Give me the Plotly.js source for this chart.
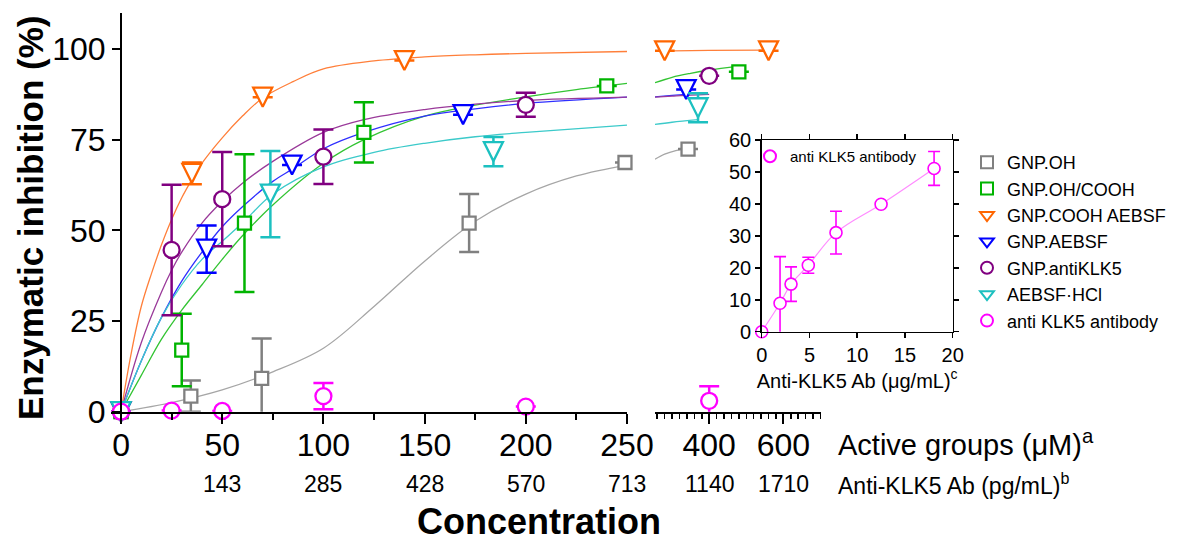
<!DOCTYPE html>
<html><head><meta charset="utf-8">
<script src="https://cdn.plot.ly/plotly-3.0.1.min.js"></script>
<style>html,body{margin:0;padding:0;background:#fff}#chart{width:1189px;height:542px}</style>
</head><body><div id="chart"></div>
<script>
// ---------- data ----------
const seriesNames = ['GNP.OH','GNP.OH/COOH','GNP.COOH AEBSF','GNP.AEBSF','GNP.antiKLK5','AEBSF·HCl','anti KLK5 antibody'];

const ohX   = [0, 34.5, 69.5, 172, 249, 343];
const ohY   = [0, 4.3, 9.2, 52, 68.7, 72.4];
const ohErr = [null, 4.3, 11, 8, null, null];

const coohX   = [0, 30, 61, 120, 240, 480];
const coohY   = [0, 17, 52, 77, 89.8, 93.7];
const coohErr = [null, 10, 19, 8.3, null, null];

const aebsfCoohX   = [0, 35, 70, 140, 280, 560];
const aebsfCoohY   = [0, 65.7, 86.7, 96.8, 99.5, 99.5];
const aebsfCoohErr = [null, 3, null, null, null, null];

const aebsfX   = [0, 42.3, 84.5, 169, 338];
const aebsfY   = [0, 44.8, 68, 81.9, 88.8];
const aebsfErr = [null, 6.5, null, null, null];

const antiX   = [0, 25, 50, 100, 200, 400];
const antiY   = [0, 44.6, 58.6, 70.3, 84.6, 92.6];
const antiErr = [null, 18, 13, 7.5, 3.3, null];

const hclX   = [0, 73.8, 184, 370];
const hclY   = [0, 60, 71.7, 83.8];
const hclErr = [null, 11.9, 4, 4];

const abX   = [0, 25, 50, 100, 200, 400];
const abY   = [0, 0.3, 0.2, 4.3, 1.4, 3];
const abErr = [null, null, null, 3.6, null, 4];

// fitted curves
const ohCurveX1 = [0, 25, 50, 75, 100, 125, 150, 175, 200, 225, 250];
const ohCurveY1 = [0, 2.5, 6, 11, 17.5, 29, 41.5, 52.5, 60, 65, 68];
const ohCurveX2 = [254, 280, 310, 343];
const ohCurveY2 = [69.6, 71, 72, 72.6];

const coohCurveX1 = [0, 10, 20, 30, 40, 50, 60, 75, 100, 120, 150, 175, 200, 225, 250];
const coohCurveY1 = [0, 10, 20, 28, 35, 42, 48.5, 57, 68.5, 75, 81.5, 84.5, 86.8, 88.8, 90.5];
const coohCurveX2 = [254, 300, 350, 400, 480];
const coohCurveY2 = [90.7, 92.2, 93.3, 94.2, 95.3];

const aebsfCoohCurveX1 = [0, 5, 10, 15, 20, 25, 30, 35, 40, 50, 60, 70, 85, 100, 125, 150, 175, 200, 250];
const aebsfCoohCurveY1 = [0, 16, 29, 38, 46, 53, 59, 64, 68.5, 75.5, 81.5, 86.5, 91, 94.5, 96.7, 97.8, 98.4, 98.8, 99.3];
const aebsfCoohCurveX2 = [254, 400, 560];
const aebsfCoohCurveY2 = [99.4, 99.6, 99.7];

const aebsfCurveX1 = [0, 10, 20, 30, 40, 50, 60, 75, 85, 100, 120, 150, 175, 200, 250];
const aebsfCurveY1 = [0, 14, 26, 36, 44, 51, 56.5, 63.5, 67, 72.5, 77, 81.5, 83.5, 85, 86.7];
const aebsfCurveX2 = [254, 300, 338];
const aebsfCurveY2 = [86.8, 87.2, 87.5];

const antiCurveX1 = [0, 10, 20, 25, 30, 40, 50, 60, 75, 100, 120, 150, 175, 200, 250];
const antiCurveY1 = [0, 19, 33, 39, 44, 52, 58, 63, 69, 77, 80.5, 83.3, 84.8, 85.8, 86.7];
const antiCurveX2 = [254, 300, 350, 400];
const antiCurveY2 = [86.7, 87, 87.3, 87.5];

const hclCurveX1 = [0, 10, 20, 30, 40, 50, 60, 75, 100, 125, 150, 175, 200, 250];
const hclCurveY1 = [0, 14, 26, 35, 42, 47, 52, 60, 67.5, 71.5, 74, 75.8, 77, 79];
const hclCurveX2 = [254, 300, 370];
const hclCurveY2 = [79.2, 79.8, 80.5];

// inset
const insetX   = [0, 1.92, 3.07, 4.88, 7.78, 12.5, 18.05];
const insetY   = [0, 8.9, 14.9, 20.8, 31, 39.9, 51.1];
const insetErr = [null, 14.6, 5.4, 2.5, 6.7, null, 5.3];

// tick labels
const xTicks1 = [0, 50, 100, 150, 200, 250];
const xMinor1 = [25, 75, 125, 175, 225];
const xTicks2 = [400, 600];
const abTickX1 = [50, 100, 150, 200, 250];
const abTickText1 = ['143', '285', '428', '570', '713'];
const abTickX2 = [400, 600];
const abTickText2 = ['1140', '1710'];
const yTicks = [0, 25, 50, 75, 100];

// ---------- styling ----------
const FONT = 'Arial, "Liberation Sans", sans-serif';
const W = 1189, H = 542;
const TRI = 19; // triangle marker size
const series = [
  {name: seriesNames[0], x: ohX, y: ohY, e: ohErr, sym: 'square', legSym: 'square', size: 13, col: '#808080', curveCol: '#a6a6a6',
   c1x: ohCurveX1, c1y: ohCurveY1, c2x: ohCurveX2, c2y: ohCurveY2},
  {name: seriesNames[1], x: coohX, y: coohY, e: coohErr, sym: 'square', legSym: 'square', size: 13, col: '#00b400', curveCol: '#33c433',
   c1x: coohCurveX1, c1y: coohCurveY1, c2x: coohCurveX2, c2y: coohCurveY2},
  {name: seriesNames[2], x: aebsfCoohX, y: aebsfCoohY, e: aebsfCoohErr, sym: 'arrow-down', legSym: 'triangle-down', size: TRI, col: '#ff6600', curveCol: '#ff7f3a',
   c1x: aebsfCoohCurveX1, c1y: aebsfCoohCurveY1, c2x: aebsfCoohCurveX2, c2y: aebsfCoohCurveY2},
  {name: seriesNames[3], x: aebsfX, y: aebsfY, e: aebsfErr, sym: 'arrow-down', legSym: 'triangle-down', size: TRI, col: '#0000ff', curveCol: '#3030ff',
   c1x: aebsfCurveX1, c1y: aebsfCurveY1, c2x: aebsfCurveX2, c2y: aebsfCurveY2},
  {name: seriesNames[4], x: antiX, y: antiY, e: antiErr, sym: 'circle', legSym: 'circle', size: 16, col: '#800080', curveCol: '#9a3a9a',
   c1x: antiCurveX1, c1y: antiCurveY1, c2x: antiCurveX2, c2y: antiCurveY2},
  {name: seriesNames[5], x: hclX, y: hclY, e: hclErr, sym: 'arrow-down', legSym: 'triangle-down', size: TRI, col: '#1cc0c0', curveCol: '#3ccaca',
   c1x: hclCurveX1, c1y: hclCurveY1, c2x: hclCurveX2, c2y: hclCurveY2},
  {name: seriesNames[6], x: abX, y: abY, e: abErr, sym: 'circle', legSym: 'circle', size: 16, col: '#ff00ff', curveCol: null}
];

const traces = [];
// curves first (underneath)
series.forEach(s => {
  if (!s.c1x) return;
  traces.push({x: s.c1x, y: s.c1y, xaxis: 'x', yaxis: 'y', mode: 'lines', showlegend: false, hoverinfo: 'skip',
    line: {color: s.curveCol, width: 1.3, shape: 'spline'}});
  traces.push({x: s.c2x, y: s.c2y, xaxis: 'x2', yaxis: 'y', mode: 'lines', showlegend: false, hoverinfo: 'skip',
    line: {color: s.curveCol, width: 1.3, shape: 'spline'}});
});
// markers, split between the two axis segments
series.forEach(s => {
  [[v => v <= 250, 'x'], [v => v > 250, 'x2']].forEach(([test, ax]) => {
    const xs = [], ys = [], es = [];
    s.x.forEach((v, i) => { if (test(v)) { xs.push(v); ys.push(s.y[i]); es.push(s.e[i]); } });
    const mk = {symbol: s.sym, size: s.size, color: '#ffffff', line: {color: s.col, width: 2.3}};
    if (s.sym === 'arrow-down') mk.standoff = s.size / 2;   // centre the tall triangle on its point
    traces.push({
      x: xs, y: ys, xaxis: ax, yaxis: 'y', mode: 'markers', name: s.name, showlegend: false,
      cliponaxis: false, marker: mk,
      error_y: {type: 'data', array: es, visible: true, color: s.col, thickness: 2.5, width: 10}
    });
  });
});
// legend entries (symbols only)
series.forEach(s => {
  traces.push({x: [null], y: [null], xaxis: 'x', yaxis: 'y', mode: 'markers', name: s.name, legend: 'legend',
    showlegend: true, marker: {symbol: s.legSym, size: 12, color: '#ffffff', line: {color: s.col, width: 1.6}}});
});
// inset: curve, then points
traces.push({x: insetX, y: insetY, xaxis: 'x3', yaxis: 'y3', mode: 'lines', showlegend: false, hoverinfo: 'skip',
  line: {color: '#ff8cff', width: 1.2, shape: 'spline'}});
traces.push({x: insetX, y: insetY, xaxis: 'x3', yaxis: 'y3', mode: 'markers', name: seriesNames[6],
  legend: 'legend2', cliponaxis: false,
  marker: {symbol: 'circle', size: 12, color: '#ffffff', line: {color: '#ff00ff', width: 1.6}},
  error_y: {type: 'data', array: insetErr, visible: true, color: '#ff00ff', thickness: 1.6, width: 6}});

// ---------- layout ----------
const px = v => v / W, py = v => (H - v) / H;
const x1dom = [px(110.9), px(627)];
const x1range = [-5, 250];
const yPos = x1dom[0] + (0 - x1range[0]) / (x1range[1] - x1range[0]) * (x1dom[1] - x1dom[0]);

const tickFont = {family: FONT, size: 32, color: '#000'};
const annotations = [];
abTickX1.forEach((v, i) => annotations.push({x: v, xref: 'x', y: py(484), yref: 'paper', text: abTickText1[i],
  showarrow: false, xanchor: 'center', yanchor: 'middle', font: {family: FONT, size: 23, color: '#000'}}));
abTickX2.forEach((v, i) => annotations.push({x: v, xref: 'x2', y: py(484), yref: 'paper', text: abTickText2[i],
  showarrow: false, xanchor: 'center', yanchor: 'middle', font: {family: FONT, size: 23, color: '#000'}}));
annotations.push({x: px(836), xref: 'paper', y: py(443), yref: 'paper', text: 'Active groups (μM)<sup>a</sup>',
  showarrow: false, xanchor: 'left', yanchor: 'middle', font: {family: FONT, size: 29, color: '#000'}});
annotations.push({x: px(836), xref: 'paper', y: py(484), yref: 'paper', text: 'Anti-KLK5 Ab (pg/mL)<sup>b</sup>',
  showarrow: false, xanchor: 'left', yanchor: 'middle', font: {family: FONT, size: 23, color: '#000'}});
annotations.push({x: px(539), xref: 'paper', y: py(521), yref: 'paper', text: '<b>Concentration</b>',
  showarrow: false, xanchor: 'center', yanchor: 'middle', borderpad: 0, font: {family: FONT, size: 36, color: '#000'}});
annotations.push({x: px(30), xref: 'paper', y: py(218), yref: 'paper', text: '<b>Enzymatic inhibition (%)</b>',
  textangle: -90, showarrow: false, xanchor: 'center', yanchor: 'middle', font: {family: FONT, size: 35, color: '#000'}});

const layout = {
  width: W, height: H, margin: {l: 0, r: 0, t: 0, b: 0},
  paper_bgcolor: '#fff', plot_bgcolor: 'rgba(0,0,0,0)',
  font: {family: FONT, color: '#000'},
  showlegend: true,
  xaxis: {domain: x1dom, range: x1range, anchor: 'y', showline: true, linewidth: 2.2, linecolor: '#000',
    showgrid: false, zeroline: false, tickmode: 'array', tickvals: xTicks1, ticks: 'outside', ticklen: 10, tickwidth: 2,
    tickcolor: '#000', tickfont: tickFont, ticklabelstandoff: -6,
    minor: {tickmode: 'array', tickvals: xMinor1, ticks: 'outside', ticklen: 6, tickwidth: 2, tickcolor: '#000'}},
  xaxis2: {domain: [px(655), px(820.5)], range: [254, 700], anchor: 'y', showline: true, linewidth: 2.2, linecolor: '#000',
    showgrid: false, zeroline: false, tickmode: 'array', tickvals: xTicks2, ticks: 'outside', ticklen: 10, tickwidth: 2,
    tickcolor: '#000', tickfont: tickFont, ticklabelstandoff: -6,
    minor: {dtick: 20, tick0: 0, ticks: 'outside', ticklen: 5, tickwidth: 1.5, tickcolor: '#000'}},
  yaxis: {domain: [py(411.7), py(12.7)], range: [0, 110], anchor: 'free', position: yPos, showline: true,
    linewidth: 2.2, linecolor: '#000', showgrid: false, zeroline: false, tickmode: 'array', tickvals: yTicks,
    ticks: 'outside', ticklen: 8, tickwidth: 2, tickcolor: '#000', tickfont: tickFont},
  xaxis3: {domain: [px(761.7), px(952.7)], range: [0, 20], anchor: 'y3', showline: true, mirror: 'ticks',
    linewidth: 1.5, linecolor: '#000', showgrid: false, zeroline: false, dtick: 5, ticks: 'outside', ticklen: 5,
    tickwidth: 1.5, tickcolor: '#000', tickfont: {family: FONT, size: 20, color: '#000'},
    title: {text: 'Anti-KLK5 Ab (μg/mL)<sup>c</sup>', standoff: 2, font: {family: FONT, size: 20, color: '#000'}}},
  yaxis3: {domain: [py(331.7), py(140)], range: [0, 60], anchor: 'x3', showline: true, mirror: 'ticks',
    linewidth: 1.5, linecolor: '#000', showgrid: false, zeroline: false, dtick: 10, ticks: 'outside', ticklen: 5,
    tickwidth: 1.5, tickcolor: '#000', tickfont: {family: FONT, size: 20, color: '#000'}},
  legend: {x: px(967), y: py(144), xanchor: 'left', yanchor: 'top', bgcolor: 'rgba(0,0,0,0)',
    font: {family: FONT, size: 18, color: '#000'}, itemsizing: 'constant', traceorder: 'normal'},
  legend2: {x: px(750), y: py(140), xanchor: 'left', yanchor: 'top', bgcolor: 'rgba(0,0,0,0)',
    font: {family: FONT, size: 15, color: '#000'}, itemsizing: 'constant'},
  annotations: annotations
};

Plotly.newPlot('chart', traces, layout, {displayModeBar: false, staticPlot: true});
</script>
</body></html>
